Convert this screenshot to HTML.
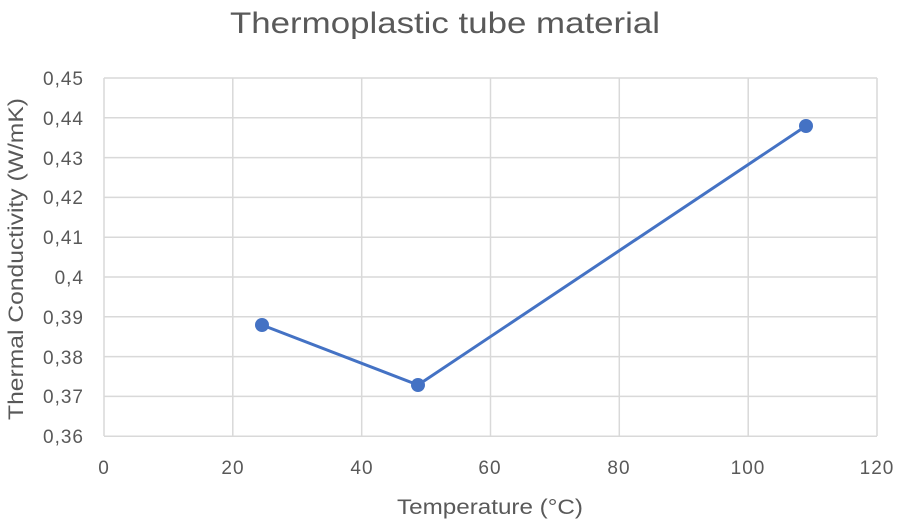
<!DOCTYPE html>
<html><head><style>body{margin:0;background:#fff}</style></head><body>
<svg width="900" height="525" xmlns="http://www.w3.org/2000/svg" font-family="Liberation Sans, sans-serif">
<rect width="900" height="525" fill="#fff"/>
<text x="230" y="33" font-size="30" fill="#595959" textLength="430" lengthAdjust="spacingAndGlyphs">Thermoplastic tube material</text>
<g stroke="#d9d9d9" stroke-width="1.5">
<line x1="104" y1="78" x2="877" y2="78"/><line x1="104" y1="117.8" x2="877" y2="117.8"/><line x1="104" y1="157.6" x2="877" y2="157.6"/><line x1="104" y1="197.4" x2="877" y2="197.4"/><line x1="104" y1="237.2" x2="877" y2="237.2"/><line x1="104" y1="277" x2="877" y2="277"/><line x1="104" y1="316.8" x2="877" y2="316.8"/><line x1="104" y1="356.6" x2="877" y2="356.6"/><line x1="104" y1="396.4" x2="877" y2="396.4"/><line x1="104" y1="436.2" x2="877" y2="436.2"/>
<line x1="104" y1="78" x2="104" y2="436"/><line x1="232.8" y1="78" x2="232.8" y2="436"/><line x1="361.7" y1="78" x2="361.7" y2="436"/><line x1="490.5" y1="78" x2="490.5" y2="436"/><line x1="619.3" y1="78" x2="619.3" y2="436"/><line x1="748.2" y1="78" x2="748.2" y2="436"/><line x1="877" y1="78" x2="877" y2="436"/>
</g>
<g font-size="19" fill="#595959" text-anchor="end" letter-spacing="1">
<text x="84" y="85">0,45</text><text x="84" y="125">0,44</text><text x="84" y="165">0,43</text><text x="84" y="204">0,42</text><text x="84" y="244">0,41</text><text x="84" y="284">0,4</text><text x="84" y="324">0,39</text><text x="84" y="364">0,38</text><text x="84" y="403">0,37</text><text x="84" y="443">0,36</text>
</g>
<g font-size="19" fill="#595959" text-anchor="middle" letter-spacing="1">
<text x="104" y="474">0</text><text x="233" y="474">20</text><text x="362" y="474">40</text><text x="490" y="474">60</text><text x="619" y="474">80</text><text x="748" y="474">100</text><text x="877" y="474">120</text>
</g>
<text x="397" y="514" font-size="21" fill="#595959" textLength="186" lengthAdjust="spacingAndGlyphs">Temperature (°C)</text>
<text transform="translate(23,420) rotate(-90)" font-size="21" fill="#595959" textLength="322" lengthAdjust="spacingAndGlyphs">Thermal Conductivity (W/mK)</text>
<polyline points="262,325 418,385 806,126" fill="none" stroke="#4472c4" stroke-width="3"/>
<g fill="#4472c4"><circle cx="262" cy="325" r="7"/><circle cx="418" cy="385" r="7"/><circle cx="806" cy="126" r="7"/></g>
</svg>
</body></html>
